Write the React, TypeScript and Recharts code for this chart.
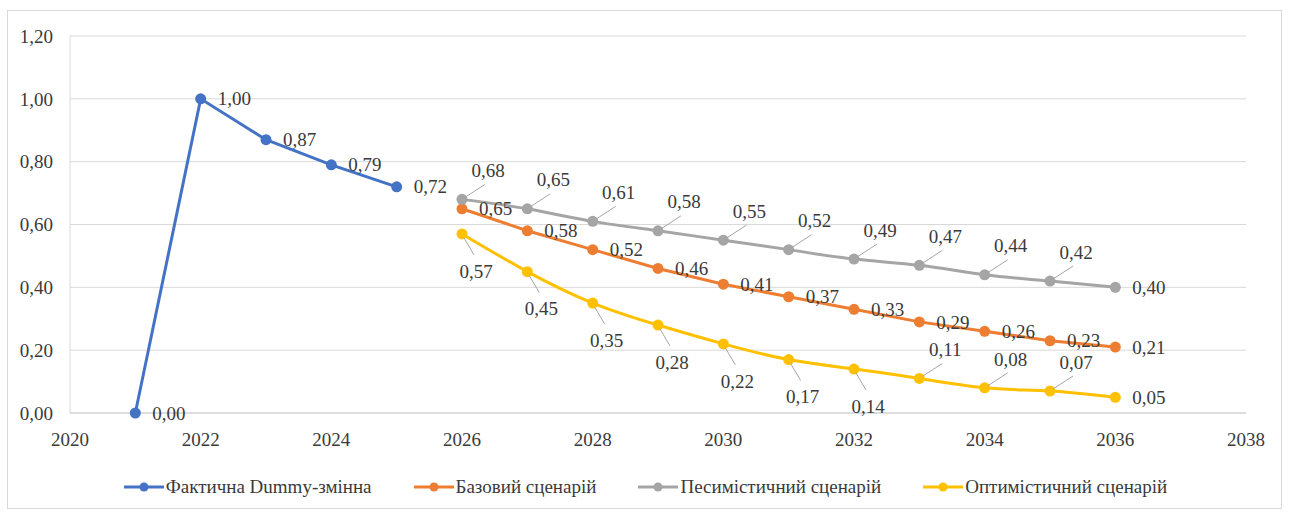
import React from "react";
import { LineChart, Line, XAxis, YAxis, CartesianGrid, LabelList, Legend } from "recharts";

// Fact series (dummy variable) and forecast scenarios
const actualYears = [2021, 2022, 2023, 2024, 2025];
const actualValues = [0.0, 1.0, 0.87, 0.79, 0.72];

const scenarioYears = [2026, 2027, 2028, 2029, 2030, 2031, 2032, 2033, 2034, 2035, 2036];
const baseValues = [0.65, 0.58, 0.52, 0.46, 0.41, 0.37, 0.33, 0.29, 0.26, 0.23, 0.21];
const pessimisticValues = [0.68, 0.65, 0.61, 0.58, 0.55, 0.52, 0.49, 0.47, 0.44, 0.42, 0.4];
const optimisticValues = [0.57, 0.45, 0.35, 0.28, 0.22, 0.17, 0.14, 0.11, 0.08, 0.07, 0.05];

const xTicks = [2020, 2022, 2024, 2026, 2028, 2030, 2032, 2034, 2036, 2038];
const yTicks = [0, 0.2, 0.4, 0.6, 0.8, 1.0, 1.2];

const seriesNames = {
  actual: "Фактична Dummy-змінна",
  base: "Базовий сценарій",
  pessimistic: "Песимістичний сценарій",
  optimistic: "Оптимістичний сценарій",
};

const COLORS = {
  actual: "#4472C4",
  base: "#ED7D31",
  pessimistic: "#A5A5A5",
  optimistic: "#FFC000",
};

const FONT = "Liberation Serif, Tinos, Nimbus Roman, DejaVu Serif, serif";
const TEXT = "#3a3a3a";
const FS = 19;

type Row = { year: number; actual?: number; base?: number; pessimistic?: number; optimistic?: number };

const rows: Row[] = [];
actualYears.forEach((y, i) => rows.push({ year: y, actual: actualValues[i] }));
scenarioYears.forEach((y, i) =>
  rows.push({
    year: y,
    base: baseValues[i],
    pessimistic: pessimisticValues[i],
    optimistic: optimisticValues[i],
  })
);

const fmt = (v: number) => v.toFixed(2).replace(".", ",");

type Placement = "right" | "above" | "below";

// Data label renderer: places value text right of, above-right or below-right of a point,
// with a thin leader line for the offset placements.
const makeLabel = (place: (index: number) => Placement) => (props: any) => {
  const { x, y, value, index } = props;
  if (value === null || value === undefined || x == null || y == null) return null;
  const p = place(index);
  const text = fmt(Number(value));
  const textStyle = { fontFamily: FONT, fontSize: FS };
  if (p === "right") {
    return (
      <text x={x + 17} y={y} dy="0.35em" style={textStyle} fill={TEXT} textAnchor="start">
        {text}
      </text>
    );
  }
  if (p === "above") {
    const cx = x + 26;
    const cy = y - 29;
    return (
      <g>
        <line x1={x + 3} y1={y - 2} x2={cx - 3} y2={cy + 14} stroke="#A6A6A6" strokeWidth={1} />
        <text x={cx} y={cy} dy="0.35em" style={textStyle} fill={TEXT} textAnchor="middle">
          {text}
        </text>
      </g>
    );
  }
  const cx = x + 14;
  const cy = y + 37;
  return (
    <g>
      <line x1={x + 2} y1={y + 4} x2={cx - 2} y2={cy - 16} stroke="#A6A6A6" strokeWidth={1} />
      <text x={cx} y={cy} dy="0.35em" style={textStyle} fill={TEXT} textAnchor="middle">
        {text}
      </text>
    </g>
  );
};

const rowIndexOffset = actualYears.length;
const lastScenario = rowIndexOffset + scenarioYears.length - 1;

const actualLabel = makeLabel(() => "right");
const baseLabel = makeLabel(() => "right");
const pessimisticLabel = makeLabel((i) => (i === lastScenario ? "right" : "above"));
const optimisticLabel = makeLabel((i) => {
  if (i === lastScenario) return "right";
  return i - rowIndexOffset <= 6 ? "below" : "above";
});

const legendOrder: (keyof typeof COLORS)[] = ["actual", "base", "pessimistic", "optimistic"];

const renderLegend = () => (
  <div
    style={{
      display: "flex",
      justifyContent: "center",
      alignItems: "center",
      fontFamily: FONT,
      fontSize: FS,
      color: TEXT,
      gap: 42,
    }}
  >
    {legendOrder.map((k) => (
      <div key={k} style={{ display: "flex", alignItems: "center" }}>
        <svg width={40} height={12} style={{ marginRight: 2 }}>
          <line x1={0} y1={6} x2={40} y2={6} stroke={COLORS[k]} strokeWidth={3} />
          <circle cx={20} cy={6} r={4.5} fill={COLORS[k]} />
        </svg>
        <span>{seriesNames[k]}</span>
      </div>
    ))}
  </div>
);

const tickStyle = { fontSize: FS, fontFamily: FONT, fill: TEXT, style: { fontFamily: FONT } };

export default function App() {
  return (
    <div
      style={{
        position: "absolute",
        left: 0,
        top: 0,
        width: 1291,
        height: 513,
        background: "#fff",
        fontFamily: FONT,
      }}
    >
      <div
        style={{
          position: "absolute",
          left: 7,
          top: 10,
          width: 1275,
          height: 499,
          border: "1px solid #D9D9D9",
          boxSizing: "border-box",
        }}
      />
      <div style={{ position: "absolute", left: 0, top: 0 }}>
        <LineChart
          width={1291}
          height={513}
          data={rows}
          margin={{ top: 36, right: 45, bottom: 70, left: 10 }}
          style={{ fontFamily: FONT }}
        >
          <CartesianGrid horizontal vertical={false} stroke="#D9D9D9" strokeWidth={1} />
          <XAxis
            dataKey="year"
            type="number"
            domain={[2020, 2038]}
            ticks={xTicks}
            axisLine={{ stroke: "#D9D9D9", strokeWidth: 1.5 }}
            tickLine={false}
            tick={tickStyle}
            tickMargin={14}
            height={30}
            interval={0}
          />
          <YAxis
            type="number"
            domain={[0, 1.2]}
            ticks={yTicks}
            tickFormatter={fmt}
            axisLine={{ stroke: "#D9D9D9", strokeWidth: 1 }}
            tickLine={false}
            tick={tickStyle}
            width={60}
            tickMargin={11}
            interval={0}
          />
          <Legend
            content={renderLegend}
            layout="horizontal"
            verticalAlign="middle"
            align="center"
            wrapperStyle={{ position: "absolute", top: 476, left: 0, width: 1291 }}
          />
          <Line
            dataKey="actual"
            name={seriesNames.actual}
            type="linear"
            stroke={COLORS.actual}
            strokeWidth={3}
            dot={{ r: 5.5, fill: COLORS.actual, stroke: COLORS.actual, strokeWidth: 0 }}
            isAnimationActive={false}
            connectNulls={false}
          >
            <LabelList dataKey="actual" content={actualLabel} />
          </Line>
          <Line
            dataKey="base"
            name={seriesNames.base}
            type="linear"
            stroke={COLORS.base}
            strokeWidth={3}
            dot={{ r: 5.5, fill: COLORS.base, stroke: COLORS.base, strokeWidth: 0 }}
            isAnimationActive={false}
          >
            <LabelList dataKey="base" content={baseLabel} />
          </Line>
          <Line
            dataKey="pessimistic"
            name={seriesNames.pessimistic}
            type="natural"
            stroke={COLORS.pessimistic}
            strokeWidth={3}
            dot={{ r: 5.5, fill: COLORS.pessimistic, stroke: COLORS.pessimistic, strokeWidth: 0 }}
            isAnimationActive={false}
          >
            <LabelList dataKey="pessimistic" content={pessimisticLabel} />
          </Line>
          <Line
            dataKey="optimistic"
            name={seriesNames.optimistic}
            type="natural"
            stroke={COLORS.optimistic}
            strokeWidth={3}
            dot={{ r: 5.5, fill: COLORS.optimistic, stroke: COLORS.optimistic, strokeWidth: 0 }}
            isAnimationActive={false}
          >
            <LabelList dataKey="optimistic" content={optimisticLabel} />
          </Line>
        </LineChart>
      </div>
    </div>
  );
}
